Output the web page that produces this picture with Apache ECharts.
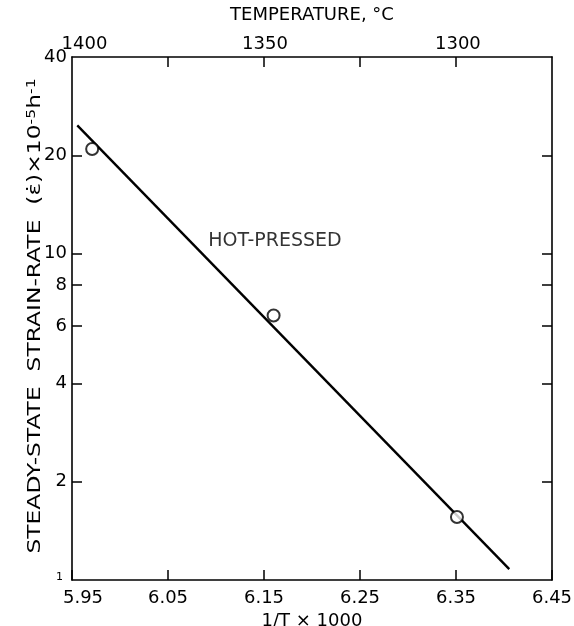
<!DOCTYPE html>
<html>
<head>
<meta charset="utf-8">
<script src="https://cdn.jsdelivr.net/npm/echarts@6/dist/echarts.min.js"></script>
<style>
html, body { margin: 0; padding: 0; background: #fff; }
#chart { width: 574px; height: 626px; }
</style>
</head>
<body>
<div id="chart"></div>
<script>
// 1/T x 1000 axis (bottom)
const xTicks = [5.95, 6.05, 6.15, 6.25, 6.35, 6.45]
// temperature axis (top): tick marks and label positions on the 1/T scale
const topTicks = [6.05, 6.15, 6.25, 6.35]
const tempPos = [5.963, 6.151, 6.352]
const tempLabels = ['1400', '1350', '1300']
// strain-rate axis (log)
const yTicks = [1, 2, 4, 6, 8, 10, 20, 40]
const yTicksRight = [2, 4, 6, 8, 10, 20]

// measured points
const pointX = [5.971, 6.160, 6.351]
const pointY = [20.9, 6.46, 1.56]
// fitted line end points
const fitX = [5.9555, 6.4055]
const fitY = [24.7, 1.08]

const FONT = 'DejaVu Sans'
const INK = '#000'

const chart = echarts.init(document.getElementById('chart'))

const axisLine = { show: true, lineStyle: { color: INK, width: 1.6 } }
const tickStyle = { color: INK, width: 1.5 }

const option = {
  backgroundColor: '#fff',
  animation: false,
  grid: { left: 72, right: 22, top: 57, bottom: 46, outerBoundsMode: 'none' },
  // y axis title, stretched along its length like the lettering of the original
  graphic: [
    {
      type: 'text',
      x: 35,
      y: 316,
      rotation: Math.PI / 2,
      scaleX: 1.3,
      style: {
        text: 'STEADY-STATE  STRAIN-RATE  (ε̇)×10{sup|-5}h{sup|-1}',
        fill: INK,
        fontFamily: FONT,
        fontSize: 18,
        align: 'center',
        verticalAlign: 'middle',
        rich: {
          sup: { fontFamily: FONT, fontSize: 12, fill: INK, verticalAlign: 'top', lineHeight: 12 }
        }
      }
    }
  ],
  xAxis: [
    {
      type: 'value',
      position: 'bottom',
      min: 5.95,
      max: 6.45,
      axisLine: axisLine,
      splitLine: { show: false },
      axisTick: { inside: true, length: 10, lineStyle: tickStyle, customValues: xTicks },
      axisLabel: {
        customValues: xTicks,
        color: INK,
        fontFamily: FONT,
        fontSize: 18,
        margin: 9,
        formatter: (v) => v === 5.95 ? '{l|5.95}' : v.toFixed(2),
        rich: { l: { fontFamily: FONT, fontSize: 18, color: INK, padding: [0, 0, 0, 22] } }
      },
      name: '1/T × 1000',
      nameLocation: 'middle',
      nameGap: 26,
      nameTextStyle: { color: INK, fontFamily: FONT, fontSize: 18 }
    },
    {
      type: 'value',
      position: 'top',
      min: 5.95,
      max: 6.45,
      axisLine: axisLine,
      splitLine: { show: false },
      axisTick: { inside: true, length: 10, lineStyle: tickStyle, customValues: topTicks },
      axisLabel: {
        customValues: tempPos,
        color: INK,
        fontFamily: FONT,
        fontSize: 18,
        margin: 4,
        formatter: (v) => {
          const i = tempPos.findIndex(p => Math.abs(p - v) < 1e-6)
          return i >= 0 ? tempLabels[i] : ''
        }
      },
      name: 'TEMPERATURE, °C',
      nameLocation: 'middle',
      nameGap: 33,
      nameTextStyle: { color: INK, fontFamily: FONT, fontSize: 18 }
    }
  ],
  yAxis: [
    {
      type: 'log',
      logBase: 10,
      position: 'left',
      min: 1,
      max: 40,
      axisLine: axisLine,
      splitLine: { show: false },
      minorTick: { show: false },
      axisTick: { inside: true, length: 10, lineStyle: tickStyle, customValues: yTicks.slice(1, -1) },
      axisLabel: {
        customValues: yTicks,
        color: INK,
        fontFamily: FONT,
        fontSize: 18,
        margin: 5,
        formatter: (v) => v === 1 ? '{s|1}' : String(v),
        rich: { s: { fontFamily: FONT, fontSize: 11, color: INK, padding: [0, 4, 6, 0] } }
      }
    },
    {
      type: 'log',
      logBase: 10,
      position: 'right',
      min: 1,
      max: 40,
      axisLine: axisLine,
      splitLine: { show: false },
      minorTick: { show: false },
      axisTick: { inside: true, length: 10, lineStyle: tickStyle, customValues: yTicksRight },
      axisLabel: { show: false }
    }
  ],
  series: [
    {
      type: 'line',
      xAxisIndex: 0,
      yAxisIndex: 0,
      data: fitX.map((x, i) => [x, fitY[i]]),
      symbol: 'none',
      lineStyle: { color: INK, width: 2.4 },
      silent: true
    },
    {
      type: 'scatter',
      xAxisIndex: 0,
      yAxisIndex: 0,
      data: pointX.map((x, i) => [x, pointY[i]]),
      symbol: 'circle',
      symbolSize: 12,
      itemStyle: { color: '#fff', borderColor: INK, borderWidth: 2 },
      z: 5
    },
    {
      // "HOT-PRESSED" annotation anchored in data space
      type: 'scatter',
      xAxisIndex: 0,
      yAxisIndex: 0,
      data: [[6.092, 10.9]],
      symbolSize: 0,
      label: {
        show: true,
        position: 'right',
        distance: 0,
        formatter: 'HOT-PRESSED',
        color: INK,
        fontFamily: FONT,
        fontSize: 19
      },
      silent: true
    }
  ]
}

chart.setOption(option)
</script>
</body>
</html>
